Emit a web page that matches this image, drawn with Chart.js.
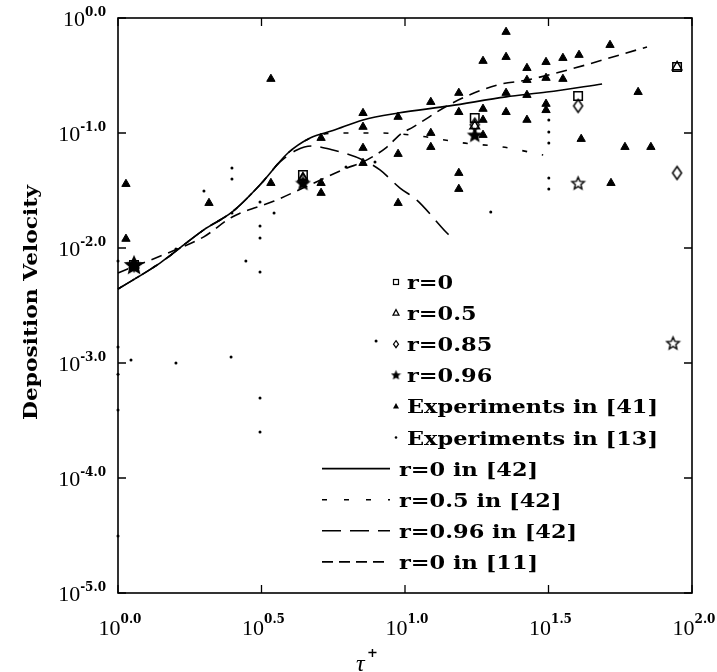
<!DOCTYPE html>
<html><head><meta charset="utf-8">
<script src="https://cdn.jsdelivr.net/npm/chart.js@4"></script>
<style>html,body{margin:0;padding:0;background:#fff}canvas{display:block}</style>
</head><body>
<canvas id="c" width="717" height="672" style="width:717px;height:672px"></canvas>
<script>
// ---- tick labels / titles ----
const xTickValues = [1, 3.1623, 10, 31.623, 100];
const xTickExps = ['0.0', '0.5', '1.0', '1.5', '2.0'];
const yTickValues = [1, 0.1, 0.01, 0.001, 0.0001, 0.00001];
const yTickExps = ['0.0', '-1.0', '-2.0', '-3.0', '-4.0', '-5.0'];
const xTitle = 'τ';
const xTitleSup = '+';
const yTitle = 'Deposition Velocity';
const legendLabels = ['r=0', 'r=0.5', 'r=0.85', 'r=0.96', 'Experiments in [41]', 'Experiments in [13]',
  'r=0 in [42]', 'r=0.5 in [42]', 'r=0.96 in [42]', 'r=0 in [11]'];

// ---- simulation points ----
const simR0 = [[1.137,0.0071],[4.41,0.0431],[17.5,0.135],[40.1,0.210],[88.7,0.375]];
const simR05 = [[1.137,0.0071],[4.41,0.0406],[17.5,0.115],[88.7,0.375]];
const simR085 = [[1.137,0.0071],[4.41,0.0389],[17.5,0.118],[40.1,0.172],[88.7,0.0449]];
const simR096 = [[1.137,0.0071],[4.41,0.0367],[17.5,0.0961],[40.1,0.0367],[85.9,0.00149]];

// ---- experiments ----
const exp41 = [[1.066,0.036],[1.066,0.012],[2.075,0.0246],[3.41,0.295],[3.41,0.0367],[5.10,0.0905],[5.10,0.0367],[5.10,0.0301],
  [7.14,0.149],[7.14,0.113],[7.14,0.0741],[7.14,0.0548],[9.46,0.138],[9.46,0.0657],[9.46,0.0246],
  [12.3,0.186],[12.3,0.100],[12.3,0.0755],[15.4,0.223],[15.4,0.152],[15.4,0.0449],[15.4,0.0326],
  [18.7,0.423],[18.7,0.162],[18.7,0.130],[18.7,0.0961],[22.5,0.756],[22.5,0.458],[22.5,0.223],[22.5,0.152],
  [26.6,0.367],[26.6,0.289],[26.6,0.214],[26.6,0.130],[31.0,0.414],[31.0,0.301],[31.0,0.179],[31.0,0.158],
  [35.5,0.449],[35.5,0.295],[40.4,0.477],[41.1,0.0887],[51.8,0.582],[52.2,0.0367],[58.4,0.0755],[64.9,0.227],[71.9,0.0755]];
const exp13 = [[1.993,0.0313],[2.495,0.0496],[2.495,0.0398],[2.495,0.0202],[3.125,0.0251],[3.125,0.0155],[3.125,0.0122],
  [3.125,0.00618],[3.497,0.0202],[2.79,0.0077],[1.592,0.0098],[6.23,0.0506],[7.86,0.056],[1.11,0.00106],[1.592,0.001],
  [2.477,0.00113],[3.125,0.000497],[3.125,0.000251],[7.93,0.00155],[19.9,0.0206],[31.7,0.130],[31.7,0.102],[31.7,0.0818],
  [31.7,0.0406],[31.7,0.0326],[1.0,0.0077],[1.0,0.00138],[1.0,0.0008],[1.0,0.00039],[1.0,0.0000313]];

// ---- reference curves ----
const ref42R0 = [[1,0.0044],[1.40,0.0074],[1.99,0.0144],[2.50,0.0206],[3.12,0.0353],[3.91,0.067],[4.67,0.0905],
  [5.61,0.105],[7.14,0.130],[9.46,0.149],[14.3,0.172],[22.5,0.206],[31.2,0.227],[48.6,0.267]];
const ref42R05 = [[1,0.0044],[1.40,0.0074],[1.99,0.0144],[2.50,0.0206],[3.12,0.0353],[3.91,0.067],[4.67,0.0905],
  [5.1,0.097],[6.28,0.100],[8.18,0.100],[11.3,0.094],[15.9,0.082],[21.9,0.0755],[30.3,0.0644]];
const ref42R096 = [[1,0.0044],[1.40,0.0074],[1.99,0.0144],[2.50,0.0206],[3.12,0.0353],[3.67,0.056],[4.20,0.0711],
  [4.74,0.077],[5.61,0.0711],[7.14,0.0582],[8.18,0.0477],[9.61,0.0332],[11.0,0.0261],[14.0,0.0135],[14.6,0.0122]];
const ref11R0 = [[1,0.00607],[1.61,0.0098],[1.99,0.0125],[2.50,0.0186],[3.50,0.0256],[4.41,0.0332],[6.28,0.0496],
  [7.14,0.056],[8.65,0.0755],[9.61,0.097],[10.7,0.113],[14.6,0.182],[20.9,0.261],[26.6,0.289],[34.7,0.339],[69.7,0.56]];

const toXY = a => a.map(p => ({x: p[0], y: p[1]}));

function starCanvas(R, filled) {
  const s = Math.ceil(2 * R + 4), c = document.createElement('canvas');
  c.width = c.height = s;
  const g = c.getContext('2d');
  g.translate(s / 2, s / 2 + 0.5);
  g.beginPath();
  for (let i = 0; i < 10; i++) {
    const r = i % 2 ? R * 0.45 : R, a = -Math.PI / 2 + i * Math.PI / 5;
    g.lineTo(r * Math.cos(a), r * Math.sin(a));
  }
  g.closePath();
  g.lineWidth = 1.4; g.strokeStyle = '#000';
  if (filled) { g.fillStyle = '#000'; g.fill(); }
  g.stroke();
  return c;
}
function diamondCanvas(w, h) {
  const c = document.createElement('canvas');
  c.width = w + 4; c.height = h + 4;
  const g = c.getContext('2d');
  g.translate(c.width / 2, c.height / 2);
  g.beginPath(); g.moveTo(0, -h / 2); g.lineTo(w / 2, 0); g.lineTo(0, h / 2); g.lineTo(-w / 2, 0); g.closePath();
  g.lineWidth = 1.5; g.strokeStyle = '#000'; g.stroke();
  return c;
}
const bigStar = starCanvas(9, true), fStar = starCanvas(6.5, true), oStar = starCanvas(6.5, false);
const diam = diamondCanvas(9, 13);

function lineDs(data, dash, order) {
  return {type: 'scatter', data: toXY(data), showLine: true, pointRadius: 0, borderColor: '#000',
    borderWidth: 1.6, borderDash: dash, cubicInterpolationMode: 'monotone', fill: false, order: order, clip: false};
}

// draw text stretched horizontally so that a reference string reaches a target width
function stretchedText(ctx, text, x, y, sx) {
  ctx.save(); ctx.translate(x, y); ctx.scale(sx, 1); ctx.fillText(text, 0, 0); ctx.restore();
}

const frameTicks = {
  id: 'frameTicks',
  afterDraw(chart) {
    const ctx = chart.ctx, xs = chart.scales.x, ys = chart.scales.y, a = chart.chartArea;
    ctx.save();
    ctx.strokeStyle = '#000'; ctx.lineWidth = 1.6;
    ctx.strokeRect(a.left, a.top, a.right - a.left, a.bottom - a.top);
    ctx.lineWidth = 1.3;
    xTickValues.forEach(v => {
      const px = xs.getPixelForValue(v);
      ctx.beginPath(); ctx.moveTo(px, a.bottom); ctx.lineTo(px, a.bottom - 8);
      ctx.moveTo(px, a.top); ctx.lineTo(px, a.top + 8); ctx.stroke();
    });
    yTickValues.forEach(v => {
      const py = ys.getPixelForValue(v);
      ctx.beginPath(); ctx.moveTo(a.left, py); ctx.lineTo(a.left + 8, py);
      ctx.moveTo(a.right, py); ctx.lineTo(a.right - 8, py); ctx.stroke();
    });
    ctx.fillStyle = '#000';
    const baseFont = '22px "Liberation Serif"', expFont = 'bold 12px "DejaVu Serif"';
    // y labels
    yTickValues.forEach((v, i) => {
      const py = ys.getPixelForValue(v);
      ctx.font = expFont; const we = ctx.measureText(yTickExps[i]).width;
      ctx.font = baseFont; const wb = ctx.measureText('10').width;
      const right = a.left - 12;
      ctx.textAlign = 'left'; ctx.textBaseline = 'alphabetic';
      ctx.fillText('10', right - we - wb, py + 8);
      ctx.font = expFont; ctx.fillText(yTickExps[i], right - we, py - 2);
    });
    // x labels
    xTickValues.forEach((v, i) => {
      const px = xs.getPixelForValue(v);
      ctx.font = expFont; const we = ctx.measureText(xTickExps[i]).width;
      ctx.font = baseFont; const wb = ctx.measureText('10').width;
      const left = px - (wb + we) / 2 + 2;
      ctx.textAlign = 'left';
      ctx.fillText('10', left, a.bottom + 42);
      ctx.font = expFont; ctx.fillText(xTickExps[i], left + wb, a.bottom + 30);
    });
    // x title
    ctx.font = 'italic 24px "Liberation Serif"';
    ctx.fillText(xTitle, 356, 671);
    ctx.font = 'bold 13px "DejaVu Serif"';
    ctx.fillText(xTitleSup, 367, 657);
    // y title
    ctx.save();
    ctx.translate(37, 303); ctx.rotate(-Math.PI / 2);
    ctx.font = 'bold 18px "DejaVu Serif"';
    const wy = ctx.measureText(yTitle).width, sy = 235 / wy;
    ctx.textAlign = 'left';
    stretchedText(ctx, yTitle, -117, 0, sy);
    ctx.restore();
    // legend
    const y0 = 282, dy = 31.1, mx = 396;
    ctx.font = 'bold 19px "DejaVu Serif"'; ctx.textAlign = 'left';
    const sx = 251 / ctx.measureText(legendLabels[4]).width;
    legendLabels.forEach((lab, i) => {
      const cy = y0 + i * dy;
      ctx.lineWidth = 1.2; ctx.strokeStyle = '#000'; ctx.fillStyle = '#000';
      ctx.setLineDash([]);
      let tx = 407;
      if (i === 0) { ctx.strokeRect(mx - 2.5, cy - 2.5, 5, 5); }
      else if (i === 1) { ctx.beginPath(); ctx.moveTo(mx, cy - 3.5); ctx.lineTo(mx + 3, cy + 2); ctx.lineTo(mx - 3, cy + 2); ctx.closePath(); ctx.stroke(); }
      else if (i === 2) { ctx.beginPath(); ctx.moveTo(mx, cy - 3.5); ctx.lineTo(mx + 2.5, cy); ctx.lineTo(mx, cy + 3.5); ctx.lineTo(mx - 2.5, cy); ctx.closePath(); ctx.stroke(); }
      else if (i === 3) { ctx.drawImage(starCanvas(3.5, true), mx - 5.5, cy - 6); }
      else if (i === 4) { ctx.beginPath(); ctx.moveTo(mx, cy - 3.5); ctx.lineTo(mx + 3, cy + 2); ctx.lineTo(mx - 3, cy + 2); ctx.closePath(); ctx.fill(); }
      else if (i === 5) { ctx.beginPath(); ctx.arc(mx, cy, 1.3, 0, Math.PI * 2); ctx.fill(); }
      else {
        tx = 399;
        const dashes = [[], [5, 17], [19, 9], [11, 6]][i - 6];
        ctx.lineWidth = 1.6; ctx.setLineDash(dashes);
        ctx.beginPath(); ctx.moveTo(322, cy); ctx.lineTo(390, cy); ctx.stroke();
        ctx.setLineDash([]);
      }
      stretchedText(ctx, lab, tx, cy + 7, sx);
    });
    ctx.restore();
  }
};

new Chart(document.getElementById('c'), {
  type: 'scatter',
  data: {
    datasets: [
      {data: toXY(simR096), pointStyle: [bigStar, fStar, fStar, oStar, oStar], pointRadius: 6, order: 1, clip: false},
      {data: toXY(simR085), pointStyle: diam, pointRadius: 6, order: 2, clip: false},
      {data: toXY(simR05), pointStyle: 'triangle', pointRadius: 5.5, borderColor: '#000', backgroundColor: 'rgba(0,0,0,0)', borderWidth: 1.5, order: 3, clip: false},
      {data: toXY(simR0), pointStyle: 'rect', pointRadius: 6, borderColor: '#000', backgroundColor: 'rgba(0,0,0,0)', borderWidth: 1.5, order: 4, clip: false},
      {data: toXY(exp41), pointStyle: 'triangle', pointRadius: 4.8, borderColor: '#000', backgroundColor: '#000', borderWidth: 1, order: 5, clip: false},
      {data: toXY(exp13), pointStyle: 'circle', pointRadius: 1.5, borderColor: '#000', backgroundColor: '#000', borderWidth: 0, order: 6, clip: false},
      lineDs(ref42R0, [], 10),
      lineDs(ref42R05, [5, 15], 11),
      lineDs(ref42R096, [19, 9], 12),
      lineDs(ref11R0, [11, 7], 13)
    ]
  },
  options: {
    responsive: false, animation: false, devicePixelRatio: 1,
    layout: {padding: {left: 118, top: 18, right: 25, bottom: 79}},
    plugins: {legend: {display: false}, tooltip: {enabled: false}},
    elements: {point: {hoverRadius: 0}},
    scales: {
      x: {type: 'logarithmic', min: 1, max: 100, ticks: {display: false}, grid: {display: false, drawTicks: false}, border: {display: false}},
      y: {type: 'logarithmic', min: 0.00001, max: 1, ticks: {display: false}, grid: {display: false, drawTicks: false}, border: {display: false}}
    }
  },
  plugins: [frameTicks]
});
</script>
</body></html>
